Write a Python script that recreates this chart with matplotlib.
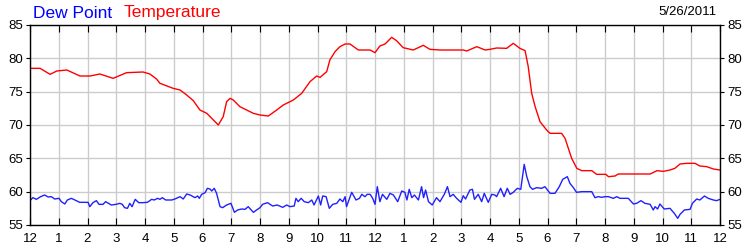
import matplotlib
matplotlib.use("Agg")
import matplotlib.pyplot as plt

# hours since midnight, readings in degrees F
temp_hours = [0, 0.35, 0.7, 0.93, 1.28, 1.74, 2.09, 2.43, 2.89, 3.36, 3.93, 4.17, 4.4, 4.52,
              4.98, 5.22, 5.45, 5.68, 5.91, 6.15, 6.55, 6.72, 6.84, 6.96, 7.07, 7.3, 7.77, 8.0,
              8.29, 8.58, 8.81, 9.16, 9.45, 9.74, 9.97, 10.09, 10.32, 10.43, 10.61, 10.78, 10.96,
              11.13, 11.42, 11.59, 11.83, 12.0, 12.17, 12.35, 12.58, 12.75, 12.98, 13.33, 13.68,
              13.91, 14.26, 15.07, 15.19, 15.54, 15.83, 16.0, 16.23, 16.58, 16.81, 17.04, 17.22,
              17.33, 17.39, 17.45, 17.57, 17.74, 17.97, 18.09, 18.49, 18.61, 18.84, 19.02, 19.19,
              19.54, 19.71, 20.03, 20.12, 20.35, 20.46, 21.57, 21.81, 22.03, 22.26, 22.43, 22.61,
              22.84, 23.13, 23.3, 23.54, 23.77, 24.0]
temp_vals = [78.5, 78.5, 77.6, 78.1, 78.25, 77.35, 77.35, 77.65, 77.0, 77.85, 77.95, 77.65, 76.9, 76.25,
             75.5, 75.25, 74.5, 73.65, 72.25, 71.75, 70.0, 71.25, 73.5, 74.0, 73.75, 72.75, 71.75, 71.5,
             71.35, 72.25, 73.0, 73.75, 74.75, 76.5, 77.35, 77.15, 78.0, 79.75, 81.0, 81.75, 82.15,
             82.15, 81.25, 81.25, 81.25, 80.85, 81.85, 82.15, 83.15, 82.65, 81.6, 81.25, 81.95,
             81.35, 81.25, 81.25, 81.1, 81.75, 81.25, 81.35, 81.55, 81.5, 82.25, 81.5, 81.15,
             78.75, 76.75, 74.75, 72.75, 70.5, 69.25, 68.75, 68.75, 68.0, 65.0, 63.5, 63.15,
             63.15, 62.6, 62.6, 62.25, 62.35, 62.65, 62.65, 63.15, 63.05, 63.25, 63.5, 64.15,
             64.25, 64.25, 63.85, 63.75, 63.4, 63.25]

dew_hours = [0.02, 0.10, 0.22, 0.37, 0.51, 0.63, 0.74, 0.86, 1.01, 1.09, 1.21, 1.30, 1.44, 1.61, 1.73,
             2.02, 2.08, 2.19, 2.31, 2.40, 2.54, 2.63, 2.83, 3.00, 3.12, 3.21, 3.29, 3.39, 3.47, 3.55,
             3.66, 3.78, 3.93, 4.08, 4.12, 4.23, 4.32, 4.44, 4.52, 4.60, 4.72, 4.93, 5.04, 5.22,
             5.33, 5.45, 5.57, 5.74, 5.83, 5.89, 5.97, 6.09, 6.17, 6.26, 6.32, 6.41, 6.49, 6.61,
             6.70, 6.84, 6.99, 7.11, 7.22, 7.36, 7.48, 7.59, 7.77, 7.88, 8.0, 8.09, 8.26, 8.44,
             8.60, 8.79, 8.93, 9.04, 9.19, 9.25, 9.33, 9.43, 9.54, 9.68, 9.80, 9.88, 10.03, 10.11,
             10.18, 10.30, 10.41, 10.53, 10.67, 10.78, 10.88, 10.96, 11.01, 11.19, 11.34, 11.46,
             11.54, 11.65, 11.73, 11.83, 11.92, 12.0, 12.08, 12.17, 12.26, 12.41, 12.52, 12.64,
             12.79, 12.93, 13.04, 13.11, 13.19, 13.28, 13.37, 13.51, 13.62, 13.69, 13.76, 13.86,
             13.99, 14.14, 14.26, 14.41, 14.52, 14.61, 14.72, 14.84, 14.99, 15.07, 15.15, 15.30,
             15.39, 15.46, 15.59, 15.71, 15.80, 15.94, 16.06, 16.17, 16.23, 16.37, 16.49, 16.60,
             16.70, 16.81, 16.95, 17.07, 17.19, 17.28, 17.39, 17.48, 17.62, 17.80, 17.91, 18.09,
             18.26, 18.41, 18.53, 18.69, 18.78, 18.90, 19.01, 19.19, 19.54, 19.65, 19.77, 19.88,
             20.0, 20.12, 20.29, 20.41, 20.52, 20.81, 20.99, 21.10, 21.25, 21.39, 21.57, 21.68,
             21.74, 21.83, 21.91, 22.06, 22.26, 22.41, 22.53, 22.61, 22.76, 22.96, 23.04, 23.19,
             23.30, 23.46, 23.59, 23.77, 23.88, 24.0]
dew_vals = [58.75, 59.1, 58.85, 59.25, 59.5, 59.2, 59.25, 58.9, 59.0, 58.5, 58.15, 58.75, 59.0, 58.65, 58.4,
            58.4, 57.75, 58.35, 58.65, 58.1, 58.1, 58.5, 58.0, 58.1, 58.25, 58.1, 57.6, 57.5, 58.25, 57.75,
            58.85, 58.35, 58.35, 58.4, 58.5, 58.85, 58.75, 59.0, 58.85, 59.1, 58.75, 58.75, 58.9, 59.25,
            58.9, 59.65, 59.5, 59.1, 59.35, 59.0, 59.6, 59.85, 60.5, 60.4, 60.1, 60.5, 59.75, 57.75,
            57.6, 58.0, 58.25, 56.9, 57.25, 57.4, 57.35, 57.75, 56.9, 57.25, 57.6, 58.1, 58.35, 57.85,
            58.0, 57.65, 58.0, 57.75, 57.85, 59.0, 58.5, 59.0, 58.5, 58.35, 58.75, 58.0, 59.35, 58.0,
            59.35, 59.25, 57.5, 58.1, 58.25, 58.9, 58.5, 59.25, 57.75, 59.9, 58.75, 59.0,
            59.6, 59.25, 59.6, 59.6, 59.0, 58.1, 60.75, 58.5, 59.6, 58.85, 59.75, 59.5,
            58.5, 60.1, 59.9, 58.75, 60.35, 59.1, 59.5, 58.75, 60.75, 59.1, 60.25, 58.5,
            58.0, 59.1, 58.5, 59.6, 60.75, 59.25, 59.6, 59.0, 58.4, 59.4, 58.9, 60.25,
            60.35, 58.85, 59.6, 58.5, 59.75, 58.4, 59.6, 59.5, 59.25, 60.5, 59.25, 60.5,
            59.6, 59.9, 60.5, 60.35, 64.1, 62.25, 60.75, 60.35, 60.6, 60.5, 60.75, 59.75,
            59.75, 60.75, 61.85, 62.25, 61.25, 60.6, 59.9, 60.0, 60.0, 59.1, 59.25, 59.15,
            59.25, 59.25, 59.0, 59.25, 59.0, 59.0, 58.15, 58.25, 58.65, 58.25, 58.1, 57.25,
            57.75, 57.4, 58.15, 57.4, 57.5, 56.75, 56.0, 56.6, 57.25, 57.35, 58.25, 58.9,
            58.75, 59.35, 59.0, 58.75, 58.65, 58.85]

hour_labels = ["12"] + [str(i) for i in range(1, 12)] + ["12"] + [str(i) for i in range(1, 12)] + ["12"]
y_ticks = [55, 60, 65, 70, 75, 80, 85]

plt.rcParams["font.family"] = ["Liberation Sans", "DejaVu Sans"]

fig = plt.figure(figsize=(7.5, 2.5), dpi=100)
ax = fig.add_axes([30 / 750, 25 / 250, 690 / 750, 200 / 250])

ax.plot(temp_hours, temp_vals, color="#ff0000", lw=1)
ax.plot(dew_hours, dew_vals, color="#2020ff", lw=1)

ax.set_xlim(0, 24)
ax.set_ylim(55, 85)
ax.set_xticks(range(25))
ax.set_xticklabels(hour_labels)
ax.set_yticks(y_ticks)
ax.grid(True, color="#cccccc", lw=1)
ax.set_axisbelow(True)

for s in ax.spines.values():
    s.set_color("black")
    s.set_linewidth(1)

ax.tick_params(axis="x", direction="in", length=5, top=True, bottom=True, labelsize=9.5, pad=6)
ax.tick_params(axis="y", direction="out", length=3, left=True, right=True,
               labelleft=True, labelright=True, labelsize=9.5, pad=2)

fig.text(33 / 750, 1 - 13 / 250, "Dew Point", color="blue", fontsize=12.5, va="center")
fig.text(124 / 750, 1 - 13 / 250, "Temperature", color="red", fontsize=12.5, va="center")
fig.text(717 / 750, 1 - 12 / 250, "5/26/2011", color="black", fontsize=9.5, va="center", ha="right")

fig.savefig("out.png", dpi=100)
